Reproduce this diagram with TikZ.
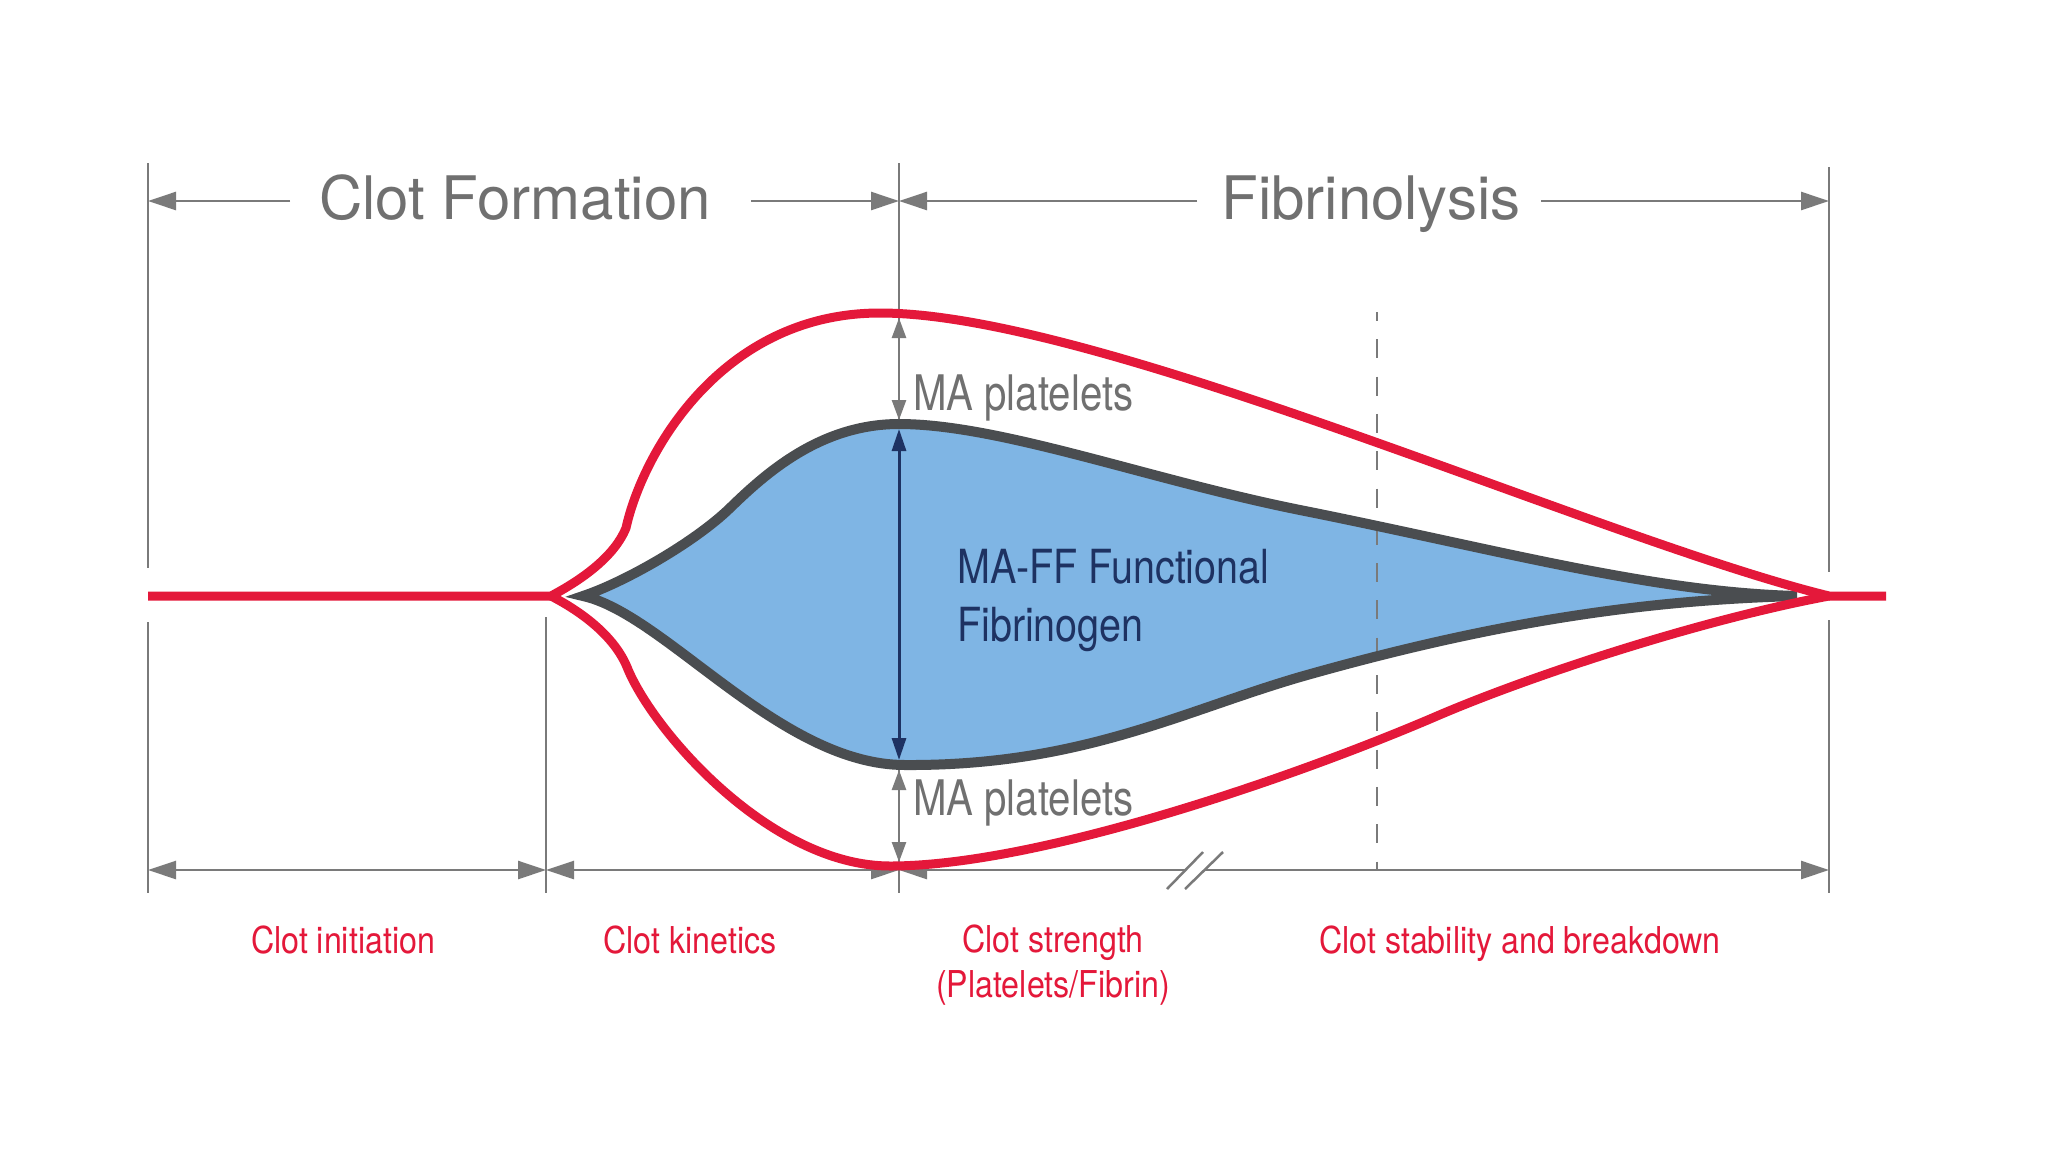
\documentclass[tikz,border=0pt]{standalone}
\usepackage{fontspec}
\setmainfont{TeX Gyre Heros}
\newfontfamily\redfont[FakeStretch=0.87]{TeX Gyre Heros}
\newfontfamily\mafont[FakeStretch=0.82]{TeX Gyre Heros}
\newfontfamily\navyfont[FakeStretch=0.84]{TeX Gyre Heros}
\usetikzlibrary{arrows.meta}
\definecolor{redc}{HTML}{E4183A}
\definecolor{curvegray}{HTML}{4A4D50}
\definecolor{bluefill}{HTML}{7FB5E4}
\definecolor{dimgray}{HTML}{7A7A7A}
\definecolor{textgray}{HTML}{707070}
\definecolor{navy}{HTML}{1E3262}
\tikzset{
  BigT/.tip={Triangle[length=28pt,width=18pt]},
  SmallT/.tip={Triangle[length=20pt,width=14pt]},
  NavyT/.tip={Triangle[length=22pt,width=14pt]},
  dimline/.style={draw=dimgray, line width=2.5pt},
  dashline/.style={draw=dimgray, line width=2.5pt, dash pattern=on 19pt off 18.3pt, dash phase=10pt},
  redcurve/.style={draw=redc, line width=9pt, line join=round},
  graycurve/.style={draw=curvegray, line width=10pt, line join=miter},
  toplabel/.style={inner sep=0pt, text=textgray, font=\fontsize{60}{72}\selectfont},
  malabel/.style={inner sep=0pt, text=textgray, font=\mafont\fontsize{49}{58}\selectfont},
  navylabel/.style={inner sep=0pt, text=navy, font=\navyfont\fontsize{47}{58}\selectfont},
  redlabel/.style={inner sep=0pt, text=redc, font=\redfont\fontsize{37}{45}\selectfont},
}
\begin{document}
\begin{tikzpicture}[x=1pt, y=-1pt]
\useasboundingbox[fill=white] (0,0) rectangle (2048,1152);

% ---- named coordinates ----
\coordinate (v1a) at (148,163);  \coordinate (v1b) at (148,568);
\coordinate (v1c) at (148,622);  \coordinate (v1d) at (148,893);
\coordinate (v2c) at (546,617);  \coordinate (v2d) at (546,893);
\coordinate (v3a) at (899,163);  \coordinate (v3b) at (899,424);
\coordinate (v3c) at (899,765);  \coordinate (v3d) at (899,893);
\coordinate (v4a) at (1829,167); \coordinate (v4b) at (1829,572);
\coordinate (v4c) at (1829,620); \coordinate (v4d) at (1829,893);
\coordinate (t1) at (148,201);  \coordinate (t2) at (899,201);  \coordinate (t3) at (1829,201);
\coordinate (cfl) at (290,201); \coordinate (cfr) at (751,201);
\coordinate (fbl) at (1197,201); \coordinate (fbr) at (1541,201);
\coordinate (b1) at (148,870); \coordinate (b2) at (546,870); \coordinate (b3) at (899,870); \coordinate (b4) at (1829,870);
\coordinate (brk1) at (1185,870); \coordinate (brk2) at (1204,870);
\coordinate (s1a) at (1167,889); \coordinate (s1b) at (1203,852);
\coordinate (s2a) at (1185,889); \coordinate (s2b) at (1223,852);
\coordinate (da) at (1377,312); \coordinate (db) at (1377,870);
\coordinate (redL) at (148,596); \coordinate (redJ) at (551,596);
\coordinate (redE) at (1829,596); \coordinate (redR) at (1886,596);

% ---- extension lines ----
\draw[dimline] (v1a) -- (v1b);
\draw[dimline] (v1c) -- (v1d);
\draw[dimline] (v2c) -- (v2d);
\draw[dimline] (v3a) -- (v3b);
\draw[dimline] (v3c) -- (v3d);
\draw[dimline] (v4a) -- (v4b);
\draw[dimline] (v4c) -- (v4d);

% ---- top dimension arrows ----
\draw[dimline, -BigT] (cfl) -- (t1);
\draw[dimline, -BigT] (cfr) -- (t2);
\draw[dimline, -BigT] (fbl) -- (t2);
\draw[dimline, -BigT] (fbr) -- (t3);

% ---- bottom dimension arrows ----
\draw[dimline, BigT-BigT] (b1) -- (b2);
\draw[dimline, BigT-BigT] (b2) -- (b3);
\draw[dimline, BigT-] (b3) -- (brk1);
\draw[dimline, -BigT] (brk2) -- (b4);
\draw[dimline] (s1a) -- (s1b);
\draw[dimline] (s2a) -- (s2b);

% ---- blue area ----
\path[fill=bluefill] (583,596) .. controls (625,582) and (695,542) .. (730,508)
  .. controls (765,474) and (820,424) .. (899,424)
  .. controls (1000,424) and (1150,480) .. (1300,510)
  .. controls (1500,550) and (1650,592) .. (1797,596)
  .. controls (1650,600) and (1500,620) .. (1300,677)
  .. controls (1180,712) and (1080,766) .. (905,765)
  .. controls (780,765) and (665,614) .. (583,596) -- cycle;

% ---- dashed line ----
\draw[dashline] (da) -- (db);

% ---- gray outline ----
\draw[graycurve] (583,596) .. controls (625,582) and (695,542) .. (730,508)
  .. controls (765,474) and (820,424) .. (899,424)
  .. controls (1000,424) and (1150,480) .. (1300,510)
  .. controls (1500,550) and (1650,592) .. (1797,596)
  .. controls (1650,600) and (1500,620) .. (1300,677)
  .. controls (1180,712) and (1080,766) .. (905,765)
  .. controls (780,765) and (665,614) .. (583,596) -- cycle;

% ---- red curves ----
\draw[redcurve] (redL) -- (redJ)
  .. controls (585,578) and (615,555) .. (626,528)
  .. controls (642,455) and (720,313) .. (880,313)
  .. controls (1100,313) and (1600,540) .. (redE) -- (redR);
\draw[redcurve] (redJ)
  .. controls (582,612) and (614,636) .. (627,667)
  .. controls (652,730) and (770,866) .. (890,866)
  .. controls (1040,866) and (1300,775) .. (1437,716)
  .. controls (1530,676) and (1700,620) .. (redE);

% ---- measurement arrows ----
\coordinate (m1a) at (899,318); \coordinate (m1b) at (899,420);
\coordinate (n1a) at (899,429); \coordinate (n1b) at (899,760);
\coordinate (m2a) at (899,770); \coordinate (m2b) at (899,862);
\draw[dimline, SmallT-SmallT] (m1a) -- (m1b);
\draw[draw=navy, line width=3pt, NavyT-NavyT] (n1a) -- (n1b);
\draw[dimline, SmallT-SmallT] (m2a) -- (m2b);

% ---- labels ----
\node[toplabel, anchor=base] (cf) at (515,219) {Clot Formation};
\node[toplabel, anchor=base] (fb) at (1371,219) {Fibrinolysis};
\node[malabel, anchor=base west] (ma1) at (913,410) {MA platelets};
\node[malabel, anchor=base west] (ma2) at (913,815) {MA platelets};
\node[navylabel, anchor=base west] (ff1) at (957,583) {MA-FF Functional};
\node[navylabel, anchor=base west] (ff2) at (957,641) {Fibrinogen};
\node[redlabel, anchor=base] (r1) at (343,953) {Clot initiation};
\node[redlabel, anchor=base] (r2) at (690,953) {Clot kinetics};
\node[redlabel, anchor=base] (r3) at (1053,952) {Clot strength};
\node[redlabel, anchor=base] (r3b) at (1053,997) {(Platelets/Fibrin)};
\node[redlabel, anchor=base] (r4) at (1520,953) {Clot stability and breakdown};
\end{tikzpicture}
\end{document}
